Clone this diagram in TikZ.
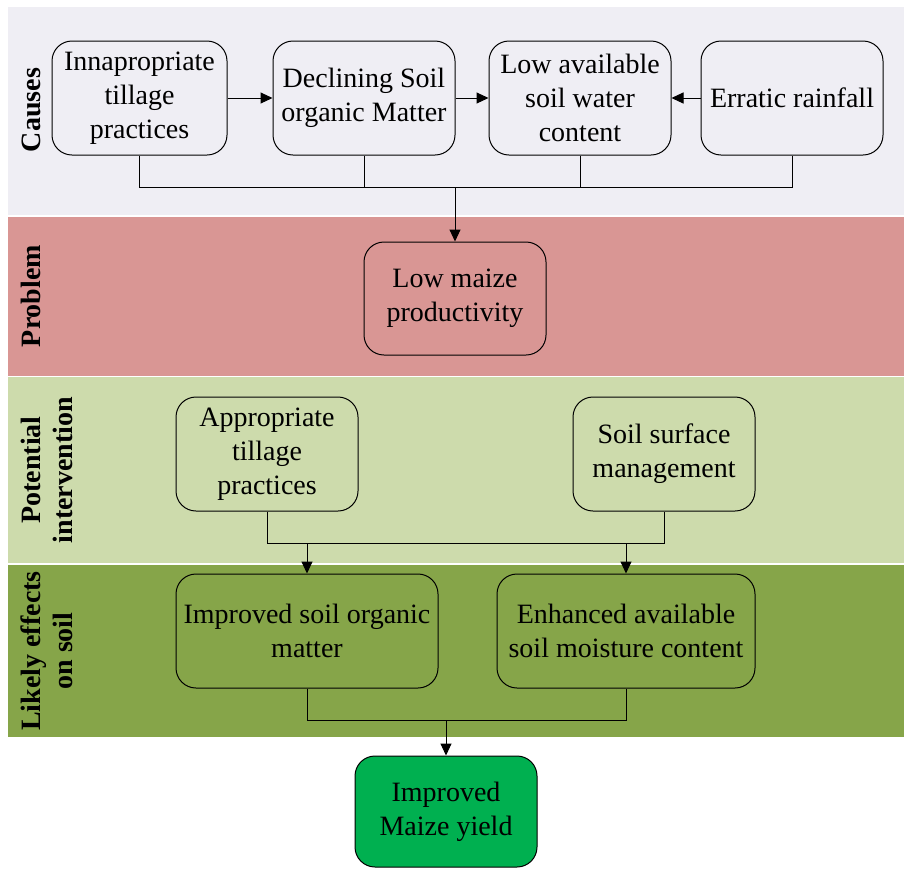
\documentclass[tikz,border=0pt]{standalone}
\usepackage{fontspec}
\setmainfont{Liberation Serif}
\usetikzlibrary{arrows.meta}
\definecolor{causebg}{HTML}{EFEEF4}
\definecolor{probbg}{HTML}{D99694}
\definecolor{intbg}{HTML}{CDDBAC}
\definecolor{effbg}{HTML}{86A549}
\definecolor{finalbg}{HTML}{00B050}
\tikzset{
  box/.style={draw=black, line width=1pt, rounded corners=20pt, align=center,
    font=\fontsize{28}{34}\selectfont, inner sep=2pt},
  bandlabel/.style={rotate=90, align=center, font=\fontsize{28}{32}\selectfont\bfseries},
  conn/.style={line width=1pt},
  arr/.style={line width=1pt, -{Triangle[length=12pt,width=11pt]}}
}
\begin{document}
\begin{tikzpicture}[x=1pt,y=-1pt]
\useasboundingbox (0,0) rectangle (904,868);
% bands
\fill[causebg] (8,7) rectangle (904,215);
\fill[probbg] (8,216.5) rectangle (904,375.5);
\fill[intbg] (8,377) rectangle (904,563);
\fill[effbg] (8,565) rectangle (904,737);
% band labels
\node[bandlabel] (lc) at (31,110) {Causes};
\node[bandlabel] (lp) at (31,296) {Problem};
\node[bandlabel] (li) at (47,470) {Potential\\intervention};
\node[bandlabel] (le) at (47,651) {Likely effects\\on soil};
% causes
\node[box, minimum width=175pt, minimum height=114pt] (c1) at (139.5,98) {Innapropriate\\tillage\\practices};
\node[box, minimum width=182pt, minimum height=114pt] (c2) at (364,98) {Declining Soil\\organic Matter};
\node[box, minimum width=182pt, minimum height=114pt] (c3) at (580,98) {Low available\\soil water\\content};
\node[box, minimum width=182pt, minimum height=114pt] (c4) at (792,98) {Erratic rainfall};
% problem
\node[box, minimum width=182pt, minimum height=113pt] (pr) at (455,298.5) {Low maize\\productivity};
% interventions
\node[box, minimum width=182pt, minimum height=114pt] (ia) at (267,454) {Appropriate\\tillage\\practices};
\node[box, minimum width=182pt, minimum height=114pt] (ib) at (664,454) {Soil surface\\management};
% effects
\node[box, minimum width=262pt, minimum height=114pt] (e1) at (307,631) {Improved soil organic\\matter};
\node[box, minimum width=258pt, minimum height=114pt] (e2) at (626,631) {Enhanced available\\soil moisture content};
% final
\node[box, fill=finalbg, minimum width=182pt, minimum height=111pt] (fy) at (446,811.5) {Improved\\Maize yield};
% connectors
\draw[arr] (c1.east) -- (c2.west);
\draw[arr] (c2.east) -- (c3.west);
\draw[arr] (c4.west) -- (c3.east);
\coordinate (cj) at (455,187);
\draw[conn] (c1.south) |- (cj);
\draw[conn] (c2.south) |- (cj);
\draw[conn] (c3.south) |- (cj);
\draw[conn] (c4.south) |- (cj);
\draw[arr] (cj) -- (pr.north);
\coordinate (ij) at (467,543);
\draw[conn] (ia.south) |- (ij) -| (ib.south);
\draw[arr] (e1.north |- ij) -- (e1.north);
\draw[arr] (e2.north |- ij) -- (e2.north);
\coordinate (ej) at (446,720);
\draw[conn] (e1.south) |- (ej) -| (e2.south);
\draw[arr] (ej) -- (fy.north);
\end{tikzpicture}
\end{document}
